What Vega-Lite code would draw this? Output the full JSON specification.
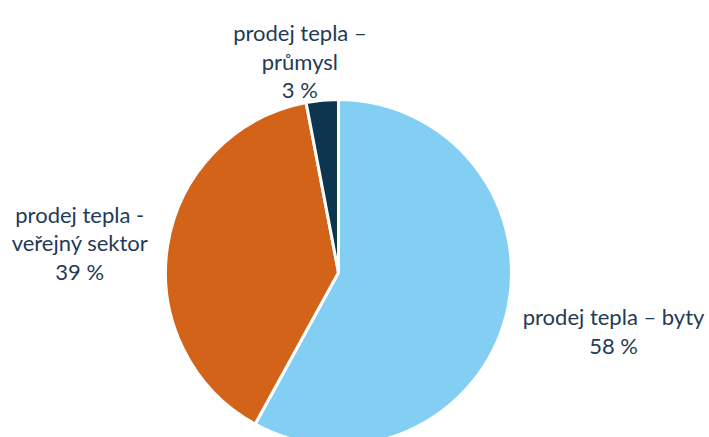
{
  "$schema": "https://vega.github.io/schema/vega-lite/v6.json",
  "width": 677,
  "height": 329,
  "autosize": {"type": "none"},
  "padding": {"left": 0, "top": 108, "right": 32, "bottom": 0},
  "background": "white",
  "config": {"view": {"stroke": null}},
  "data": {
    "values": [
      {"kategorie": "prodej tepla – byty", "podil": 58, "poradi": 1, "popisek": "prodej tepla – byty\n58 %"},
      {"kategorie": "prodej tepla - veřejný sektor", "podil": 39, "poradi": 2, "popisek": "prodej tepla -\nveřejný sektor\n39 %"},
      {"kategorie": "prodej tepla – průmysl", "podil": 3, "poradi": 3, "popisek": "prodej tepla –\nprůmysl\n3 %"}
    ]
  },
  "encoding": {
    "theta": {"field": "podil", "type": "quantitative", "stack": true},
    "order": {"field": "poradi", "type": "quantitative"}
  },
  "layer": [
    {
      "mark": {"type": "arc", "outerRadius": 173, "stroke": "white", "strokeWidth": 3},
      "encoding": {
        "color": {
          "field": "kategorie",
          "type": "nominal",
          "scale": {
            "domain": ["prodej tepla – byty", "prodej tepla - veřejný sektor", "prodej tepla – průmysl"],
            "range": ["#82CFF3", "#D4631A", "#0E3550"]
          },
          "legend": null
        }
      }
    },
    {
      "mark": {"type": "text", "radius": 284, "dy": -25, "font": "Lato", "fontSize": 22, "lineBreak": "\n", "lineHeight": 28.5, "align": "center", "baseline": "middle"},
      "encoding": {
        "detail": {"field": "kategorie", "type": "nominal"},
        "color": {"value": "#1F3B57"},
        "text": {"condition": {"test": "datum.poradi === 1", "field": "popisek", "type": "nominal"}, "value": ""}
      }
    },
    {
      "mark": {"type": "text", "radius": 262, "dy": -16, "font": "Lato", "fontSize": 22, "lineBreak": "\n", "lineHeight": 28.5, "align": "center", "baseline": "middle"},
      "encoding": {
        "detail": {"field": "kategorie", "type": "nominal"},
        "color": {"value": "#1F3B57"},
        "text": {"condition": {"test": "datum.poradi === 2", "field": "popisek", "type": "nominal"}, "value": ""}
      }
    },
    {
      "mark": {"type": "text", "radius": 219, "dx": -18, "dy": -20, "font": "Lato", "fontSize": 22, "lineBreak": "\n", "lineHeight": 28.5, "align": "center", "baseline": "middle"},
      "encoding": {
        "detail": {"field": "kategorie", "type": "nominal"},
        "color": {"value": "#1F3B57"},
        "text": {"condition": {"test": "datum.poradi === 3", "field": "popisek", "type": "nominal"}, "value": ""}
      }
    }
  ]
}
